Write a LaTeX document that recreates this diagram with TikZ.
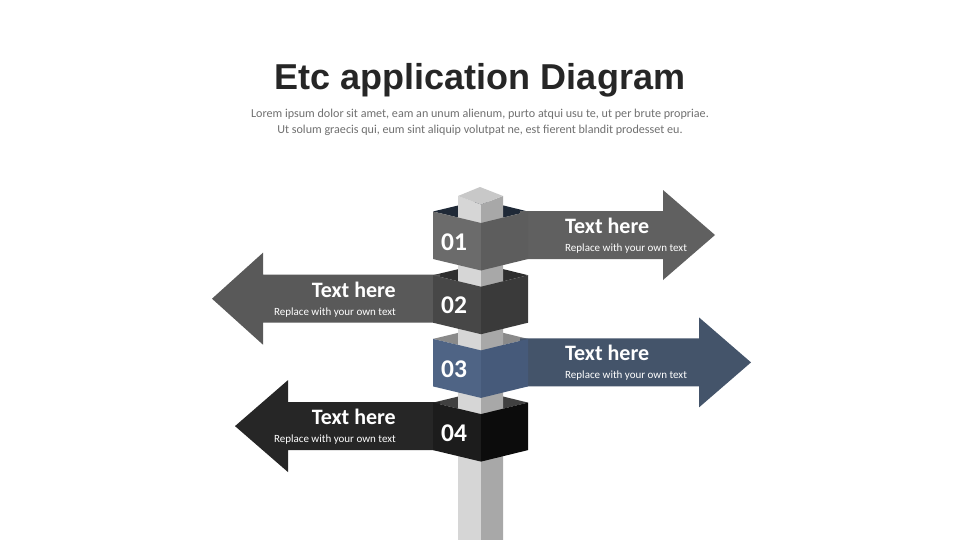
\documentclass[tikz,border=0pt]{standalone}
\usepackage{fontspec}
\setmainfont{Carlito}
\newfontfamily\titlefont{Liberation Sans}
\definecolor{titlecol}{HTML}{262626}
\definecolor{subcol}{HTML}{707070}
\definecolor{postL}{HTML}{D6D6D6}
\definecolor{postR}{HTML}{A8A8A8}
\definecolor{capT}{HTML}{C8C8C8}
\definecolor{aL}{HTML}{6B6B6B}\definecolor{aR}{HTML}{5D5D5D}\definecolor{aA}{HTML}{606060}\definecolor{aI}{HTML}{1F2937}
\definecolor{bL}{HTML}{474747}\definecolor{bR}{HTML}{3A3A3A}\definecolor{bA}{HTML}{595959}\definecolor{bI}{HTML}{2E2E2E}
\definecolor{cL}{HTML}{4F6485}\definecolor{cR}{HTML}{465A7A}\definecolor{cA}{HTML}{44546A}\definecolor{cI}{HTML}{8A8A8A}
\definecolor{dL}{HTML}{1C1C1C}\definecolor{dR}{HTML}{0C0C0C}\definecolor{dA}{HTML}{262626}\definecolor{dI}{HTML}{404040}
\tikzset{
  headtext/.style={inner sep=0pt, text=white, font=\bfseries\fontsize{22}{26}\selectfont},
  subtext/.style={inner sep=0pt, text=white, font=\fontsize{11}{13}\selectfont},
  numtext/.style={inner sep=0pt, text=white, anchor=base west, font=\bfseries\fontsize{25.5}{29}\selectfont},
}
% interior of a box top: #1 centre y, #2 colour
\newcommand\boxinside[2]{%
  \fill[#2] (433,{#1-23.5}) -- (481,{#1-35}) -- (528,{#1-23.5}) -- (481,{#1-12}) -- cycle;}
% front faces: #1 centre y, #2 left colour, #3 right colour
\newcommand\boxfront[3]{%
  \fill[#2] (433,{#1-23.5}) -- (481,{#1-12}) -- (481,{#1+35.5}) -- (433,{#1+24}) -- cycle;
  \fill[#3] (481,{#1-12}) -- (528,{#1-23.5}) -- (528,{#1+24}) -- (481,{#1+35.5}) -- cycle;}
% right arrow: #1 centre y, #2 head base x, #3 tip x, #4 colour
\newcommand\rightarrowshape[4]{%
  \fill[#4] (520,{#1-24}) -- (#2,{#1-24}) -- (#2,{#1-45}) -- (#3,#1) -- (#2,{#1+45}) -- (#2,{#1+24}) -- (520,{#1+24}) -- cycle;}
\newcommand\leftarrowshape[4]{%
  \fill[#4] (440,{#1-24}) -- (#2,{#1-24}) -- (#2,{#1-46}) -- (#3,#1) -- (#2,{#1+46}) -- (#2,{#1+24}) -- (440,{#1+24}) -- cycle;}
\begin{document}
\begin{tikzpicture}[x=1pt,y=-1pt]
\useasboundingbox[fill=white] (0,0) rectangle (960,540);
% title
\node[inner sep=0pt, anchor=base, text=titlecol, font=\titlefont\bfseries\fontsize{36}{40}\selectfont] (title) at (480,90) {Etc application Diagram};
\node[inner sep=0pt, anchor=base, text=subcol, font=\fontsize{12.1}{14}\selectfont] (sub1) at (480,118) {Lorem ipsum dolor sit amet, eam an unum alienum, purto atqui usu te, ut per brute propriae.};
\node[inner sep=0pt, anchor=base, text=subcol, font=\fontsize{12.1}{14}\selectfont] (sub2) at (480,134) {Ut solum graecis qui, eum sint aliquip volutpat ne, est fierent blandit prodesset eu.};
% box interiors
\boxinside{235}{aI}
\boxinside{298.7}{bI}
\boxinside{362.4}{cI}
\boxinside{426.1}{dI}
% post
\fill[postL] (458,196) -- (481,204.5) -- (481,540) -- (458,540) -- cycle;
\fill[postR] (481,204.5) -- (503,196) -- (503,540) -- (481,540) -- cycle;
\fill[capT] (480,187) -- (503,196) -- (481,204.5) -- (458,196) -- cycle;
% arrows
\rightarrowshape{235}{663}{715}{aA}
\leftarrowshape{298.7}{263}{212}{bA}
\rightarrowshape{362.4}{699}{751}{cA}
\leftarrowshape{426.1}{288}{235}{dA}
% box fronts, bottom first
\boxfront{426.1}{dL}{dR}
\boxfront{362.4}{cL}{cR}
\boxfront{298.7}{bL}{bR}
\boxfront{235}{aL}{aR}
% numbers
\node[numtext] (n1) at (441,250) {01};
\node[numtext] (n2) at (441,313.7) {02};
\node[numtext] (n3) at (441,377.4) {03};
\node[numtext] (n4) at (441,441.1) {04};
% arrow texts
\node[headtext, anchor=base west] (h1) at (565,233) {Text here};
\node[subtext, anchor=base west] (s1) at (565,251) {Replace with your own text};
\node[headtext, anchor=base east] (h2) at (396,297) {Text here};
\node[subtext, anchor=base east] (s2) at (396,315) {Replace with your own text};
\node[headtext, anchor=base west] (h3) at (565,360.5) {Text here};
\node[subtext, anchor=base west] (s3) at (565,378.5) {Replace with your own text};
\node[headtext, anchor=base east] (h4) at (396,424) {Text here};
\node[subtext, anchor=base east] (s4) at (396,442) {Replace with your own text};
\end{tikzpicture}
\end{document}
